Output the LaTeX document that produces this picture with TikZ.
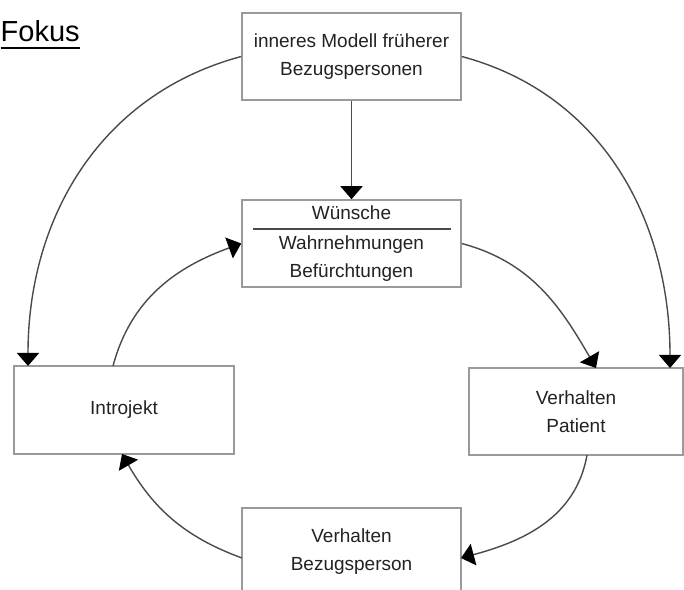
\documentclass[tikz,border=0pt]{standalone}
\usepackage{fontspec}
\setmainfont{Liberation Sans}
\usetikzlibrary{arrows.meta}
\definecolor{boxgray}{HTML}{9A9A9A}
\definecolor{linegray}{HTML}{4A4A4A}
\definecolor{textgray}{HTML}{222222}
\tikzset{
  box/.style={draw=boxgray, line width=1.5pt, minimum width=219pt, minimum height=87pt,
    inner sep=0pt, align=center, text=textgray, font=\fontsize{19}{28}\selectfont},
  link/.style={draw=linegray, line width=1.4pt, -{Triangle[width=22pt,length=13pt,fill=black,color=black]}},
}
\begin{document}
\begin{tikzpicture}[x=1pt,y=1pt]
            \useasboundingbox (0,0) rectangle (684,589);

            % Title
            \node[anchor=base west, inner sep=0pt, font=\fontsize{29}{36}\selectfont] (fokus) at (0.5,547) {Fokus};
            \draw[line width=2pt] ([yshift=-6pt]fokus.base west) -- ([yshift=-6pt]fokus.base east);

            % Place the boxes
            \node[box] (modell) at (351.5,532.5) {inneres Modell früherer\\Bezugspersonen};
            \node[box] (wunsch) at (351.5,345.5) {Wünsche\\[2pt]Wahrnehmungen\\Befürchtungen};
            \node[box, minimum width=220pt, minimum height=88pt] (introjekt) at (124,179) {Introjekt};
            \node[box, minimum width=214pt] (patient) at (576,177.5) {Verhalten\\Patient};
            \node[box] (bezug) at (351.5,37.5) {Verhalten\\Bezugsperson};
            \draw[draw=linegray, line width=2.5pt] (253,360) -- (451,360);

            % Arrow ends on the boxes
            \coordinate (i-in) at (28,223);
            \coordinate (i-out) at (113,223);
            \coordinate (i-bot) at (122,135);
            \coordinate (p-in1) at (596,221);
            \coordinate (p-in2) at (670,221);
            \coordinate (p-out) at (587,134);
            \coordinate (b-in) at (461,31);
            \coordinate (b-out) at (242,31);

            % The lines!
            \draw[link] (modell) -- (wunsch);
            \draw[link] (modell.west) to[out=195, in=90] (i-in);
            \draw[link] (modell.east) to[out=-15, in=90] (p-in2);
            \draw[link] (wunsch.east) to[out=-15, in=120] (p-in1);
            \draw[link] (p-out) to[out=-100, in=15] (b-in);
            \draw[link] (b-out) to[out=160, in=-60] (i-bot);
            \draw[link] (i-out) to[out=75, in=200] (wunsch.west);
\end{tikzpicture}
\end{document}
